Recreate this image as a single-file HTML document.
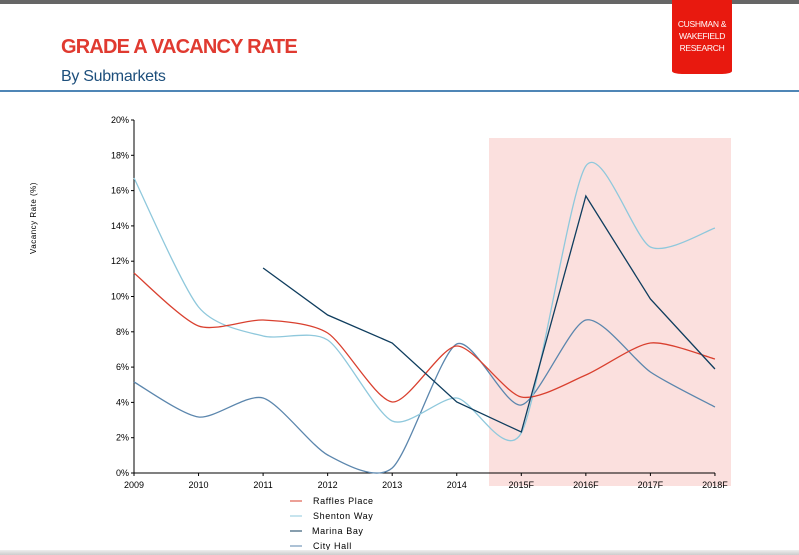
<!DOCTYPE html>
<html><head><meta charset="utf-8"><style>
body{margin:0;width:799px;height:555px;overflow:hidden;background:#fff;font-family:"Liberation Sans",Arial,sans-serif;position:relative}
.top{position:absolute;left:0;top:0;width:799px;height:4px;background:#666}
.badge{position:absolute;left:672px;top:0;width:60px;height:56px;background:#e8190f;color:#fff;font-size:8.5px;line-height:12px;text-align:center;padding-top:18px;border-radius:0 0 10px 10px/0 0 3px 3px;letter-spacing:-0.3px}
h1{position:absolute;left:61px;top:36px;margin:0;font-size:20px;color:#e03a30;font-weight:bold;letter-spacing:-0.8px}
h2{position:absolute;left:61px;top:68px;margin:0;font-size:16px;color:#1d4f7c;font-weight:normal;letter-spacing:-0.3px}
.rule{position:absolute;left:0;top:90px;width:799px;height:2px;background:#4f86b6}
.bot{position:absolute;left:0;top:550px;width:799px;height:5px;background:linear-gradient(#eee,#ccc)}
svg{position:absolute;left:0;top:0}
text{font-family:"Liberation Sans",Arial,sans-serif}
</style></head><body>
<div class="top"></div>
<div class="badge">CUSHMAN &amp;<br>WAKEFIELD<br>RESEARCH</div>
<h1>GRADE A VACANCY RATE</h1>
<h2>By Submarkets</h2>
<div class="rule"></div>
<svg width="799" height="555" id="s">
<rect x="489" y="138" width="242" height="348" fill="#fbe0de"/>
<g id="ax" font-size="9" fill="#000"></g>
<text transform="translate(36,218) rotate(-90)" font-size="8" text-anchor="middle" letter-spacing="0.5">Vacancy Rate (%)</text>
<g id="lines" fill="none" stroke-width="1.3"></g>
<g font-size="9" letter-spacing="0.6">
<line x1="290" y1="501" x2="302" y2="501" stroke="#d9402f"/><text x="313" y="504">Raffles Place</text>
<line x1="290" y1="516" x2="302" y2="516" stroke="#8fc8dc"/><text x="313" y="519">Shenton Way</text>
<line x1="290" y1="531" x2="302" y2="531" stroke="#0f3d5e"/><text x="312" y="534">Marina Bay</text>
<line x1="290" y1="546" x2="302" y2="546" stroke="#5b86ad"/><text x="313" y="549">City Hall</text>
</g>
</svg>
<div class="bot"></div>
<script>
var ns="http://www.w3.org/2000/svg",ax=document.getElementById('ax'),L=document.getElementById('lines');
function el(p,t,a,txt){var e=document.createElementNS(ns,t);for(var k in a)e.setAttribute(k,a[k]);if(txt)e.textContent=txt;p.appendChild(e);return e;}
el(ax,'line',{x1:134,y1:120,x2:134,y2:473,stroke:'#000'});
el(ax,'line',{x1:134,y1:473,x2:715,y2:473,stroke:'#000'});
for(var i=0;i<=10;i++){var y=473-i*35.3;el(ax,'line',{x1:131,y1:y,x2:134,y2:y,stroke:'#000'});el(ax,'text',{x:129,y:y+3,'text-anchor':'end'},(i*2)+'%');}
var lab=['2009','2010','2011','2012','2013','2014','2015F','2016F','2017F','2018F'];
for(var i=0;i<10;i++){var x=134+i*64.55;el(ax,'line',{x1:x,y1:473,x2:x,y2:476,stroke:'#000'});el(ax,'text',{x:x,y:488,'text-anchor':'middle'},lab[i]);}
var T=8;
function smooth(p){var d='M'+p[0][0]+','+p[0][1];for(var i=0;i<p.length-1;i++){var a=p[i-1]||p[i],b=p[i],c=p[i+1],e=p[i+2]||c;d+=' C'+(b[0]+(c[0]-a[0])/T)+','+(b[1]+(c[1]-a[1])/T)+' '+(c[0]-(e[0]-b[0])/T)+','+(c[1]-(e[1]-b[1])/T)+' '+c[0]+','+c[1];}return d;}
function X(i){return 134+i*64.55;}
function pts(ys,s){return ys.map(function(y,i){return [X(i+(s||0)),y];});}
el(L,'path',{d:smooth(pts([382,417,398,455,468,344,405,320,372,407])),stroke:'#5b86ad'});
el(L,'path',{d:smooth(pts([178,307,336,340,421,398,433,166,247,228])),stroke:'#8fc8dc'});
el(L,'path',{d:smooth(pts([273,326,320,333,402,346,397,375,343,359])),stroke:'#d9402f'});
el(L,'polyline',{points:pts([268,315,343,402,432,196,299,369],2).join(' '),stroke:'#0f3d5e'});
</script>
</body></html>
